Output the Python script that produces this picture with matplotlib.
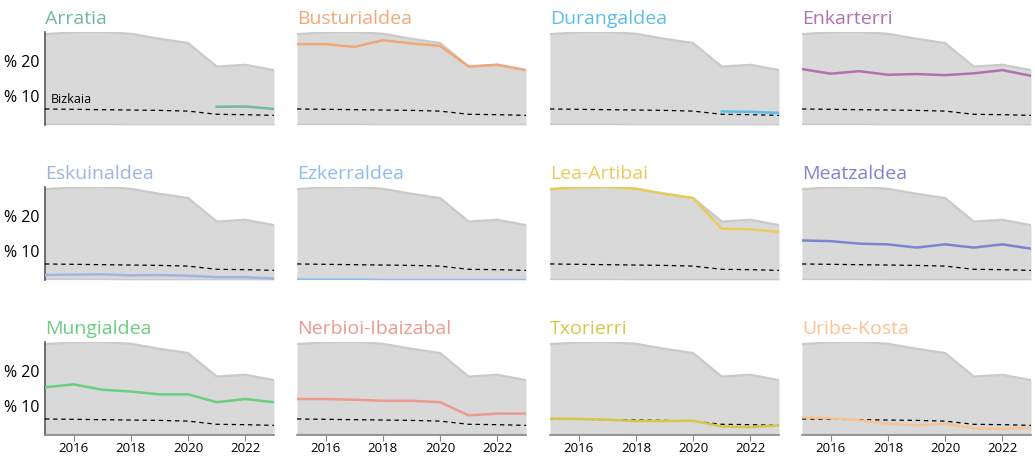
import numpy as np
import matplotlib
matplotlib.use("Agg")
import matplotlib.pyplot as plt

plt.rcParams['font.family'] = ['Open Sans', 'DejaVu Sans']

years = [2015, 2016, 2017, 2018, 2019, 2020, 2021, 2022, 2023]
nan = np.nan

regions = ['Arratia', 'Busturialdea', 'Durangaldea', 'Enkarterri',
           'Eskuinaldea', 'Ezkerraldea', 'Lea-Artibai', 'Meatzaldea',
           'Mungialdea', 'Nerbioi-Ibaizabal', 'Txorierri', 'Uribe-Kosta']

arratia = [nan, nan, nan, nan, nan, nan, 7.0, 7.1, 6.4]
busturialdea = [24.6, 24.6, 23.8, 25.7, 24.8, 24.1, 18.3, 18.8, 17.3]
durangaldea = [nan, nan, nan, nan, nan, nan, 5.7, 5.6, 5.3]
enkarterri = [17.6, 16.3, 17.0, 16.0, 16.2, 15.9, 16.4, 17.3, 15.7]
eskuinaldea = [3.3, 3.4, 3.5, 3.2, 3.3, 3.1, 2.7, 2.7, 2.3]
ezkerraldea = [2.0, 2.0, 2.0, 1.9, 1.9, 1.9, 1.9, 1.9, 1.9]
lea_artibai = [27.4, 27.9, 28.0, 27.5, 26.1, 24.9, 16.3, 16.1, 15.4]
meatzaldea = [13.0, 12.8, 12.1, 11.9, 11.0, 11.9, 11.0, 11.9, 10.7]
mungialdea = [15.3, 16.1, 14.6, 14.1, 13.3, 13.3, 11.1, 12.0, 11.1]
nerbioi = [12.0, 12.0, 11.8, 11.5, 11.5, 11.1, 7.4, 7.9, 7.9]
txorierri = [6.5, 6.4, 6.2, 5.8, 5.8, 5.9, 4.3, 4.1, 4.6]
uribe_kosta = [6.9, 6.6, 6.0, 5.1, 4.6, 5.1, 3.8, 3.6, 3.9]

bizkaia = [6.4, 6.3, 6.2, 6.1, 6.0, 5.8, 4.9, 4.8, 4.6]

series = [arratia, busturialdea, durangaldea, enkarterri, eskuinaldea, ezkerraldea,
          lea_artibai, meatzaldea, mungialdea, nerbioi, txorierri, uribe_kosta]

colors = ['#74b89e', '#efa878', '#5bbde8', '#b36fb3', '#9fb5e0', '#8cbcf0',
          '#e8cc5a', '#7b84d0', '#6bcf80', '#eb9a8f', '#d4c84a', '#f9c394']

data = np.array(series, dtype=float)
env_max = np.nanmax(data, axis=0)
env_min = np.nanmin(data, axis=0)
ylo, yhi = np.nanmin(data), np.nanmax(data)

W, H = 1035, 457
fig = plt.figure(figsize=(W / 100, H / 100), dpi=100)

col_left = [45, 297, 550, 802]
row_top = [32, 187, 342]
pw, ph = 229, 93

for i, name in enumerate(regions):
    r, c = divmod(i, 4)
    ax = fig.add_axes([col_left[c] / W, 1 - (row_top[r] + ph) / H, pw / W, ph / H])
    ax.fill_between(years, env_min, env_max, color='#d9d9d9', lw=0, zorder=1)
    ax.plot(years, env_max, color='#cacaca', lw=1.6, zorder=2)
    ax.plot(years, env_min, color='#cacaca', lw=1.6, zorder=2)
    ax.plot(years, bizkaia, color='black', lw=0.9, ls=(0, (3.5, 3)), zorder=3)
    ax.plot(years, series[i], color=colors[i], lw=1.8, zorder=4)
    ax.set_xlim(2015, 2023)
    ax.set_ylim(ylo, yhi)
    ax.set_facecolor('none')
    for s in ['top', 'right']:
        ax.spines[s].set_visible(False)
    ax.spines['left'].set_visible(c == 0)
    ax.spines['left'].set_color('#555555')
    ax.spines['left'].set_linewidth(1.2)
    ax.spines['bottom'].set_visible(r == 2)
    ax.spines['bottom'].set_color('#888888')
    ax.spines['bottom'].set_linewidth(1.2)

    ax.set_yticks([10, 20])
    if c == 0:
        ax.set_yticklabels(['% 10', '% 20'], fontsize=11.5)
    else:
        ax.set_yticklabels([])
    ax.tick_params(axis='y', length=0, pad=4)

    ax.set_xticks([2016, 2018, 2020, 2022])
    if r == 2:
        ax.tick_params(axis='x', length=4, color='#888888', labelsize=9.5, pad=1)
    else:
        ax.tick_params(axis='x', length=0, labelbottom=False)

    ax.text(0, 1.04, name, transform=ax.transAxes, color=colors[i],
            fontsize=14, ha='left', va='bottom')
    if i == 0:
        ax.text(2015.2, 7.3, 'Bizkaia', fontsize=9, color='black',
                ha='left', va='bottom')

fig.savefig('out.png', dpi=100)
